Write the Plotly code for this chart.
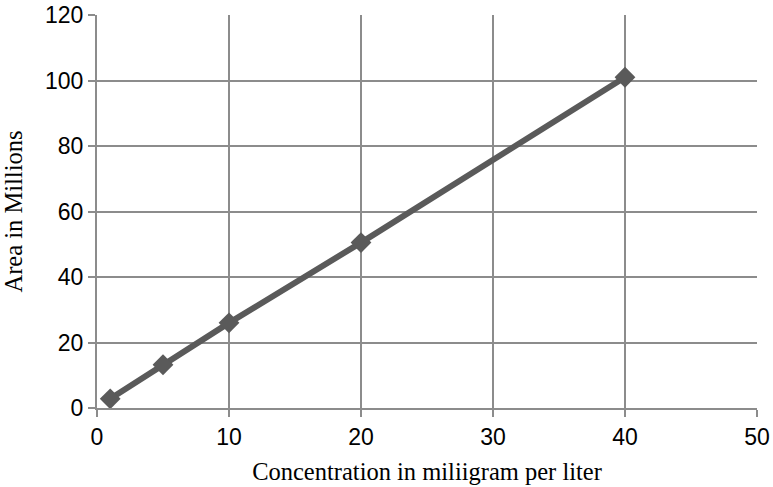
import plotly.graph_objects as go

# concentration (mg/L) vs peak area (millions)
concentration = [1, 5, 10, 20, 40]
area_millions = [2.8, 13.2, 26.0, 50.5, 101.0]

x_ticks = [0, 10, 20, 30, 40, 50]
y_ticks = [0, 20, 40, 60, 80, 100, 120]

grid_col = "#8c8c8c"
sans = "Liberation Sans, Arial, sans-serif"
serif = "Liberation Serif, Times New Roman, serif"

fig = go.Figure()
fig.add_trace(go.Scatter(
    x=concentration, y=area_millions,
    mode="lines+markers",
    line=dict(color="#5a5a5a", width=6),
    marker=dict(symbol="diamond", size=16, color="#5a5a5a"),
    showlegend=False,
))

for upd, title, ticks, rng, standoff in [
    (fig.update_xaxes, "Concentration in miliigram per liter", x_ticks, [0, 50], 14),
    (fig.update_yaxes, "Area in Millions", y_ticks, [0, 120], 20),
]:
    upd(
        range=rng, tickvals=ticks, automargin=False,
        showgrid=True, gridcolor=grid_col, gridwidth=2,
        showline=True, linecolor=grid_col, linewidth=2,
        ticks="outside", ticklen=7, tickcolor=grid_col, tickwidth=2,
        zeroline=False, ticklabeloverflow="allow",
        tickfont=dict(family=sans, size=23, color="black"),
        title=dict(text=title, standoff=standoff,
                   font=dict(family=serif, size=24.5, color="black")),
    )

fig.update_layout(
    width=773, height=487, autosize=False,
    font=dict(family=sans, size=23, color="black"),
    margin=dict(l=97, r=16, t=15, b=79),
    plot_bgcolor="white", paper_bgcolor="white",
)

# drop the default 8px body margin so the figure sits at the page corner
fig.write_html("out.html", config={"displayModeBar": False},
               post_script="document.body.style.margin='0';")
